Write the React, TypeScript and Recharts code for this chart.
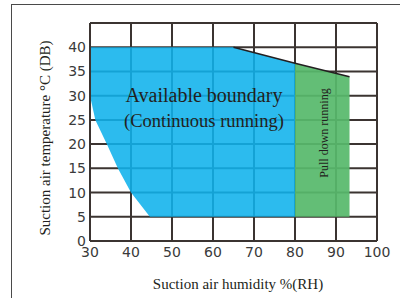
import React from "react";
import { ComposedChart, Area, Line, XAxis, YAxis, CartesianGrid } from "recharts";

// x = relative humidity (%RH), y = suction air temperature (°C DB)
const humidityTicks = [30, 40, 50, 60, 70, 80, 90, 100];
const tempTicks = [0, 5, 10, 15, 20, 25, 30, 35, 40];
const tempGrid = [0, 5, 10, 15, 20, 25, 30, 35, 40, 45];

// continuous running zone: [lower temp, upper temp] at each humidity
const availableZone = [
  { rh: 30, t: [30, 40] },
  { rh: 31.3, t: [25, 40] },
  { rh: 34.1, t: [20, 40] },
  { rh: 36.8, t: [15, 40] },
  { rh: 40, t: [10, 40] },
  { rh: 44.6, t: [5, 40] },
  { rh: 65, t: [5, 40] },
  { rh: 80, t: [5, 36.7] },
];

const pullDownZone = [
  { rh: 80, t: [5, 36.7] },
  { rh: 93.3, t: [5, 33.9] },
];

const upperEdge = [
  { rh: 65, t: 40 },
  { rh: 80, t: 36.7 },
  { rh: 93.3, t: 33.9 },
];

const serif = "'Liberation Serif', 'Times New Roman', serif";
const ink = "#231f20";
const gridColor = "#3b3431";

export default function App() {
  return (
    <div style={{ position: "absolute", left: 0, top: 0, width: 400, height: 298, background: "#fff" }}>
      <div
        style={{
          position: "absolute",
          left: 11,
          top: 4,
          width: 400,
          height: 300,
          borderTop: "1px solid #4a4a4a",
          borderLeft: "1px solid #4a4a4a",
        }}
      />
      <ComposedChart
        width={400}
        height={298}
        margin={{ top: 23, right: 23, left: 40, bottom: 27 }}
        style={{ position: "absolute", left: 0, top: 0 }}
      >
        <CartesianGrid
          stroke={gridColor}
          strokeWidth={2}
          horizontalValues={tempGrid}
          verticalValues={humidityTicks}
        />
        <XAxis
          dataKey="rh"
          type="number"
          domain={[30, 100]}
          ticks={humidityTicks}
          allowDuplicatedCategory={false}
          tickSize={0}
          tickMargin={6}
          height={30}
          axisLine={{ stroke: gridColor, strokeWidth: 2 }}
          tick={{ fill: "#3a3a3a", fontSize: 14, fontFamily: "'DejaVu Sans', sans-serif" }}
          interval={0}
        />
        <YAxis
          type="number"
          domain={[0, 45]}
          ticks={tempTicks}
          tickSize={0}
          tickMargin={4}
          width={50}
          axisLine={{ stroke: gridColor, strokeWidth: 2 }}
          tick={{ fill: "#3a3a3a", fontSize: 14, fontFamily: "'DejaVu Sans', sans-serif" }}
          interval={0}
        />
        <Area
          data={availableZone}
          dataKey="t"
          type="linear"
          stroke="none"
          fill="#0fb2ec"
          fillOpacity={0.88}
          isAnimationActive={false}
        />
        <Area
          data={pullDownZone}
          dataKey="t"
          type="linear"
          stroke="none"
          fill="#57b96c"
          fillOpacity={0.93}
          isAnimationActive={false}
        />
        <Line
          data={upperEdge}
          dataKey="t"
          type="linear"
          stroke={ink}
          strokeWidth={1.5}
          dot={false}
          isAnimationActive={false}
        />
      </ComposedChart>
      <svg
        width={400}
        height={298}
        style={{ position: "absolute", left: 0, top: 0, pointerEvents: "none" }}
      >
        <text x={204} y={102} textAnchor="middle" fontFamily={serif} fontSize={20} fill={ink}>
          Available boundary
        </text>
        <text x={204} y={127} textAnchor="middle" fontFamily={serif} fontSize={18.5} fill={ink}>
          (Continuous running)
        </text>
        <text
          x={324}
          y={133}
          textAnchor="middle"
          dominantBaseline="central"
          fontFamily={serif}
          fontSize={12}
          fill={ink}
          transform="rotate(-90 324 133)"
        >
          Pull down running
        </text>
        <text
          x={45}
          y={138}
          textAnchor="middle"
          dominantBaseline="central"
          fontFamily={serif}
          fontSize={15}
          fill={ink}
          transform="rotate(-90 45 138)"
        >
          Suction air temperature °C (DB)
        </text>
        <text x={238} y={289} textAnchor="middle" fontFamily={serif} fontSize={15} fill={ink}>
          Suction air humidity %(RH)
        </text>
      </svg>
    </div>
  );
}
